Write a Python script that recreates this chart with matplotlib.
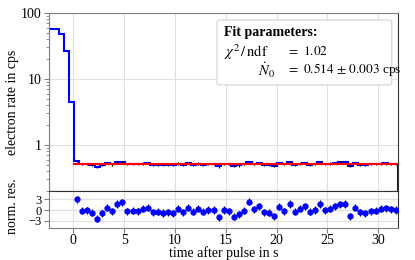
import numpy as np
import matplotlib
matplotlib.use("Agg")
import matplotlib.pyplot as plt
from matplotlib.patches import FancyBboxPatch

plt.rcParams['font.family'] = ['Liberation Serif', 'DejaVu Serif']
plt.rcParams['mathtext.fontset'] = 'stix'
plt.rcParams['font.size'] = 10

# bins: -2.4 s to 32 s, 69 bins
t_start, t_stop, n_bins = -2.4, 32.0, 69
edges = np.linspace(t_start, t_stop, n_bins + 1)
centers = 0.5 * (edges[1:] + edges[:-1])

# rates before the fit window (cps)
pre_rate = [56.5, 56.5, 48.0, 26.3, 4.5]
# rates inside the fit window (cps)
fit_rate = [0.574, 0.510, 0.512, 0.500, 0.466, 0.496, 0.528, 0.506, 0.548, 0.558,
            0.508, 0.510, 0.508, 0.522, 0.528, 0.502, 0.504, 0.498, 0.502, 0.496,
            0.522, 0.502, 0.526, 0.504, 0.522, 0.504, 0.514, 0.514, 0.474, 0.514,
            0.508, 0.476, 0.490, 0.510, 0.560, 0.518, 0.536, 0.502, 0.500, 0.480,
            0.532, 0.508, 0.548, 0.504, 0.522, 0.536, 0.504, 0.514, 0.548, 0.512,
            0.522, 0.536, 0.546, 0.548, 0.480, 0.528, 0.502, 0.496, 0.508, 0.510,
            0.522, 0.524, 0.518, 0.514]
rate_err = 0.02

# normalised residuals
norm_res = [3.0, -0.2, -0.1, -0.7, -2.4, -0.9, 0.7, -0.4, 1.7, 2.2,
            -0.3, -0.2, -0.3, 0.4, 0.7, -0.6, -0.5, -0.8, -0.6, -0.9,
            0.4, -0.6, 0.6, -0.5, 0.4, -0.5, 0.0, 0.0, -2.0, 0.0,
            -0.3, -1.9, -1.2, -0.2, 2.3, 0.2, 1.1, -0.6, -0.7, -1.7,
            0.9, -0.3, 1.7, -0.5, 0.4, 1.1, -0.5, 0.0, 1.7, -0.1,
            0.4, 1.1, 1.6, 1.7, -1.7, 0.7, -0.6, -0.9, -0.3, -0.2,
            0.4, 0.5, 0.2, 0.0]

N0 = 0.514
N0_err = 0.003
chi2_ndf = 1.02

rate = np.array(pre_rate + fit_rate)
n_pre = len(pre_rate)
fit_lo = edges[n_pre]

fig = plt.figure(figsize=(4.15, 2.6), dpi=100)
gs = fig.add_gridspec(2, 1, height_ratios=[178, 37], hspace=0,
                      left=0.118, right=0.960, top=0.95, bottom=0.123)
ax = fig.add_subplot(gs[0])
axr = fig.add_subplot(gs[1], sharex=ax)

# main panel
ax.stairs(rate, edges, color='blue', lw=1.5, baseline=1e-3, zorder=2)
ax.errorbar(centers, rate, yerr=rate_err, fmt='none', ecolor='black', elinewidth=0.8, zorder=3)
ax.plot([fit_lo, t_stop], [N0, N0], color='red', lw=1.5, zorder=4)
ax.set_yscale('log')
ax.set_ylim(0.2, 100)
ax.set_xlim(t_start, t_stop)
ax.set_yticks([1, 10, 100])
ax.set_yticklabels(['1', '10', '100'])
ax.set_ylabel('electron rate in cps')
ax.grid(True, which='major', color='0.88', lw=0.8)
ax.tick_params(axis='x', which='both', bottom=False, labelbottom=False)
ax.tick_params(axis='y', which='both', color='0.5', pad=2)

# fit parameter box
box = FancyBboxPatch((0.481, 0.596), 0.50, 0.365, transform=ax.transAxes,
                     boxstyle='round,pad=0,rounding_size=0.01', facecolor='white',
                     edgecolor='0.82', lw=0.8, zorder=5)
ax.add_patch(box)
ax.text(0.501, 0.888, 'Fit parameters:', transform=ax.transAxes, fontweight='bold',
        va='center', ha='left', zorder=6)
ax.text(0.501, 0.781, r'$\chi^2\,/\,\mathrm{ndf}$', transform=ax.transAxes,
        va='center', ha='left', zorder=6, fontsize=10.5)
ax.text(0.680, 0.781, r'$=\ %.2f$' % chi2_ndf, transform=ax.transAxes,
        va='center', ha='left', zorder=6, fontsize=9.5)
ax.text(0.598, 0.680, r'$\dot{N}_0$', transform=ax.transAxes,
        va='center', ha='left', zorder=6, fontsize=10.5)
ax.text(0.680, 0.680, r'$=\ %.3f\,\pm\,%.3f$ cps' % (N0, N0_err),
        transform=ax.transAxes, va='center', ha='left', zorder=6, fontsize=9.5)

# residual panel
axr.axhline(0, color='0.65', lw=0.8, zorder=1)
axr.errorbar(centers[n_pre:], norm_res, yerr=1, fmt='o', color='blue', ms=3.5,
             ecolor='black', elinewidth=0.8, zorder=3)
axr.set_ylim(-5, 5.3)
axr.set_yticks([3, 0, -3])
axr.set_yticklabels(['3', '0', '\u22123'], fontsize=9)
axr.set_xticks([0, 5, 10, 15, 20, 25, 30])
axr.set_xlabel('time after pulse in s', labelpad=-1)
axr.set_ylabel('norm. res.')
axr.grid(True, color='0.88', lw=0.8)
axr.tick_params(which='both', color='0.5', pad=1)
axr.tick_params(axis='y', pad=2)

for spine in ['left', 'top']:
    ax.spines[spine].set_color('0.5')
for spine in ['right', 'bottom']:
    ax.spines[spine].set_color('0.2')
for spine in ['left', 'bottom']:
    axr.spines[spine].set_color('0.5')
for spine in ['right', 'top']:
    axr.spines[spine].set_color('0.2')

ax.yaxis.set_label_coords(-0.085, 0.5)
axr.yaxis.set_label_coords(-0.085, 0.58)

fig.savefig('out.png', dpi=100)
